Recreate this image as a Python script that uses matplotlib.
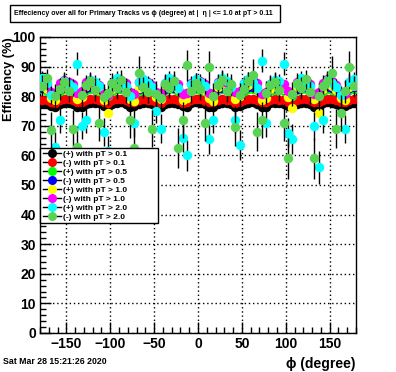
import matplotlib
matplotlib.use('Agg')
import matplotlib.pyplot as plt
from matplotlib.lines import Line2D
from matplotlib.patches import Rectangle
from matplotlib.ticker import MultipleLocator

plt.rcParams['font.family'] = ['Liberation Sans', 'DejaVu Sans']
plt.rcParams['font.weight'] = 'bold'

# phi bin centres (5 degree bins)
phi = [-177.5 + 5 * i for i in range(72)]

labels = ['(+) with pT > 0.1', '(-) with pT > 0.1', '(+) with pT > 0.5', '(-) with pT > 0.5',
          '(+) with pT > 1.0', '(-) with pT > 1.0', '(+) with pT > 2.0', '(-) with pT > 2.0']
colors = ['#000000', '#ff0000', '#00ff00', '#0000ff', '#ffff00', '#ff00ff', '#00ffff', '#59d354']

black = [77.6, 77.4, 76.6, 76.4, 77.5, 77.8, 77.7, 77.5, 76.5, 76.3, 77.4, 77.7,
         77.8, 77.6, 76.7, 76.2, 77.3, 77.6, 77.9, 77.5, 76.4, 76.6, 77.5, 77.8,
         77.6, 77.4, 76.5, 76.3, 77.4, 77.7, 77.8, 77.5, 76.6, 76.4, 77.6, 77.9,
         77.7, 77.3, 76.5, 76.2, 77.5, 77.8, 77.6, 77.4, 76.3, 76.6, 77.5, 77.7,
         77.9, 77.5, 76.4, 76.5, 77.6, 77.8, 77.6, 77.3, 76.6, 76.3, 77.4, 77.7,
         77.8, 77.5, 76.5, 76.4, 77.6, 77.9, 77.7, 77.4, 76.4, 76.6, 77.5, 77.8]
red = [78.8, 78.6, 78.0, 77.8, 78.7, 79.0, 78.9, 78.6, 77.9, 78.1, 78.8, 79.1,
       78.9, 78.7, 78.0, 77.7, 78.6, 78.9, 79.0, 78.8, 77.9, 78.0, 78.7, 79.1,
       78.8, 78.6, 78.1, 77.8, 78.7, 79.0, 78.9, 78.7, 77.8, 78.0, 78.8, 79.0,
       78.9, 78.5, 78.0, 77.9, 78.7, 79.1, 78.8, 78.6, 77.8, 78.1, 78.8, 79.0,
       79.1, 78.7, 77.9, 78.0, 78.6, 78.9, 78.8, 78.6, 78.0, 77.8, 78.7, 79.0,
       78.9, 78.7, 77.9, 78.1, 78.8, 79.1, 78.9, 78.6, 78.0, 77.9, 78.7, 79.0]
green = [82.3, 81.9, 80.6, 80.2, 81.8, 82.4, 82.1, 81.7, 80.4, 80.8, 82.0, 82.5,
         82.2, 81.8, 80.5, 80.1, 81.9, 82.3, 82.4, 82.0, 80.7, 80.3, 81.8, 82.2,
         82.1, 81.6, 80.4, 80.6, 82.0, 82.4, 82.3, 81.9, 80.2, 80.5, 81.9, 82.5,
         82.2, 81.8, 80.6, 80.3, 82.1, 82.3, 82.0, 81.7, 80.5, 80.8, 81.9, 82.4,
         82.5, 82.0, 80.3, 80.6, 81.8, 82.2, 82.1, 81.8, 80.6, 80.2, 82.0, 82.3,
         82.4, 81.9, 80.4, 80.7, 81.8, 82.5, 82.2, 81.7, 80.5, 80.3, 82.0, 82.4]
blue = [82.8, 82.4, 81.0, 80.7, 82.5, 83.0, 82.6, 82.2, 80.9, 81.2, 82.7, 83.1,
        82.5, 82.3, 81.1, 80.6, 82.6, 82.9, 83.0, 82.4, 80.8, 81.0, 82.4, 82.8,
        82.7, 82.1, 81.2, 80.9, 82.6, 83.1, 82.8, 82.3, 80.7, 81.1, 82.5, 83.0,
        82.9, 82.4, 81.0, 80.8, 82.7, 82.9, 82.6, 82.2, 81.1, 81.3, 82.5, 83.0,
        83.1, 82.6, 80.9, 81.1, 82.4, 82.8, 82.7, 82.3, 81.2, 80.8, 82.6, 82.9,
        83.0, 82.5, 80.9, 81.2, 82.4, 83.1, 82.8, 82.2, 81.0, 80.9, 82.7, 83.0]
yellow = [83.5, 82.6, 79.4, 78.8, 82.9, 84.0, 83.2, 82.1, 79.0, 79.8, 83.4, 84.2,
          82.8, 82.0, 78.7, 74.2, 82.5, 83.6, 84.1, 82.7, 79.2, 78.5, 82.9, 83.8,
          83.3, 81.8, 79.6, 78.9, 83.1, 84.3, 83.7, 82.4, 78.6, 79.5, 82.7, 84.0,
          83.6, 82.2, 79.3, 78.4, 83.0, 84.1, 82.9, 82.0, 79.1, 79.9, 82.8, 83.9,
          84.4, 82.6, 78.8, 79.4, 82.5, 83.5, 83.2, 82.3, 79.7, 76.0, 83.1, 83.8,
          84.0, 82.5, 79.0, 74.3, 82.6, 84.2, 83.5, 82.1, 79.3, 78.7, 83.0, 83.7]
magenta = [85.0, 84.2, 81.3, 80.6, 84.6, 85.5, 84.9, 84.0, 81.0, 81.7, 84.8, 85.6,
           84.5, 83.8, 80.9, 80.4, 84.3, 85.2, 85.4, 84.4, 81.4, 80.8, 84.7, 85.3,
           84.9, 83.9, 81.5, 81.0, 84.6, 85.7, 85.1, 84.1, 80.7, 81.2, 84.4, 85.4,
           85.2, 84.0, 81.1, 80.5, 84.8, 85.6, 84.6, 83.7, 81.3, 81.8, 84.5, 85.2,
           85.6, 84.3, 80.8, 81.4, 84.2, 85.1, 84.9, 84.1, 81.6, 80.9, 84.7, 85.3,
           85.4, 84.2, 80.9, 81.5, 84.3, 85.7, 85.0, 83.9, 81.2, 80.6, 84.8, 85.4]
cyan = [86.0, 84.5, 80.5, 63.0, 72.0, 85.2, 84.0, 83.1, 91.0, 70.0,
        72.0, 85.5, 84.7, 83.4, 68.0, 61.5, 84.0, 86.2, 85.1, 83.6,
        80.2, 71.0, 84.8, 85.9, 84.3, 83.0, 75.0, 69.0, 84.5, 86.0,
        85.0, 82.8, 66.0, 60.0, 84.1, 85.7, 84.9, 83.5, 65.5, 72.0,
        84.6, 86.3, 85.3, 83.2, 72.0, 63.5, 84.4, 85.8, 84.7, 82.9,
        92.0, 71.0, 84.2, 85.6, 85.2, 91.0, 67.6, 65.5, 84.0, 86.1,
        84.8, 83.3, 70.0, 56.0, 72.0, 85.4, 84.6, 83.0, 80.4, 69.0,
        84.9, 85.7]
lgreen = [83.5, 86.0, 68.6, 80.0, 82.4, 84.8, 81.9, 69.0, 63.0, 80.5,
          83.8, 85.1, 82.2, 71.0, 79.6, 81.0, 84.5, 82.7, 85.6, 81.5,
          72.0, 62.5, 88.0, 83.0, 81.4, 69.0, 80.8, 79.5, 84.2, 82.9,
          85.3, 62.5, 72.0, 90.5, 81.7, 84.6, 82.4, 71.0, 90.0, 80.2,
          83.9, 85.5, 81.8, 84.1, 69.6, 80.4, 82.6, 85.0, 87.0, 68.0,
          72.0, 81.2, 83.7, 84.9, 82.1, 71.0, 59.0, 80.7, 84.4, 82.8,
          85.8, 81.3, 59.0, 79.9, 83.6, 85.2, 88.0, 69.0, 74.3, 81.6,
          90.0, 83.3]

cyan_err = [2.6, 2.4, 3.0, 5.0, 4.5, 2.3, 2.5, 2.7, 4.0, 4.6,
            4.3, 2.4, 2.6, 2.8, 4.8, 5.2, 2.5, 2.3, 2.4, 2.7,
            3.1, 4.7, 2.5, 2.3, 2.6, 2.8, 4.2, 4.9, 2.5, 2.4,
            2.4, 2.8, 5.0, 5.3, 2.6, 2.3, 2.5, 2.7, 5.1, 4.5,
            2.6, 2.3, 2.4, 2.8, 4.6, 5.0, 2.5, 2.4, 2.6, 2.9,
            3.8, 4.7, 2.5, 2.3, 2.4, 3.9, 4.9, 5.1, 2.6, 2.3,
            2.5, 2.8, 4.8, 5.5, 4.4, 2.4, 2.6, 2.9, 3.1, 4.8,
            2.5, 2.4]
lgreen_err = [3.6, 3.2, 6.0, 4.2, 3.7, 3.3, 3.9, 6.2, 6.8, 4.3,
              3.5, 3.1, 3.8, 6.1, 4.4, 4.1, 3.4, 3.7, 3.2, 3.9,
              6.0, 6.9, 5.5, 3.6, 3.8, 6.3, 4.2, 4.5, 3.4, 3.6,
              3.3, 6.8, 6.0, 5.2, 3.9, 3.3, 3.7, 6.2, 5.4, 4.3,
              3.5, 3.2, 3.9, 3.4, 6.4, 4.2, 3.7, 3.3, 5.6, 6.5,
              6.0, 3.9, 3.5, 3.3, 3.8, 6.2, 7.0, 4.1, 3.4, 3.7,
              3.2, 3.9, 7.0, 4.4, 3.6, 3.3, 5.5, 6.6, 6.0, 3.8,
              5.3, 3.6]

series = [black, red, green, blue, yellow, magenta, cyan, lgreen]
errors = [0.4, 0.45, 0.7, 0.7, 1.2, 1.2, cyan_err, lgreen_err]

W, H = 396, 372
fig = plt.figure(figsize=(W / 100, H / 100), dpi=100)
ax = fig.add_axes([40 / W, 39 / H, 316 / W, 296 / H])

for k, (vals, err, c) in enumerate(zip(series, errors, colors)):
    ax.errorbar(phi, vals, yerr=err, fmt='o', ms=6.8, mfc=c, mec=c, mew=0,
                ecolor='black', elinewidth=1, capsize=0, zorder=3 + k)

ax.set_xlim(-180, 180)
ax.set_ylim(0, 100)
ax.xaxis.set_major_locator(MultipleLocator(50))
ax.xaxis.set_minor_locator(MultipleLocator(10))
ax.yaxis.set_major_locator(MultipleLocator(10))
ax.yaxis.set_minor_locator(MultipleLocator(2))
ax.tick_params(which='both', direction='in', top=False, right=False, width=1)
ax.tick_params(which='major', length=8, labelsize=10, pad=3)
ax.tick_params(which='minor', length=4)
ax.grid(True, which='major', color='black', linestyle=(0, (1, 2)), linewidth=1, zorder=1)
ax.set_axisbelow(True)
for s in ax.spines.values():
    s.set_linewidth(1)

ax.set_ylabel('Efficiency (%)', fontsize=9.2, fontweight='bold', loc='top')
ax.yaxis.set_label_coords(-24.5 / 316, 1.0)
ax.set_xlabel('\u03d5 (degree)', fontsize=10, fontweight='bold', loc='right')
ax.xaxis.set_label_coords(1.0, -24 / 296)

handles = [Line2D([], [], color='black', lw=1, marker='o', ms=6.5, mfc=c, mec=c, mew=0)
           for c in colors]
leg = ax.legend(handles, labels, loc='upper left',
                bbox_to_anchor=(40 / W, 1 - 223 / H, 118 / W, 75 / H), mode='expand',
                bbox_transform=fig.transFigure, borderaxespad=0, fontsize=6,
                frameon=True, fancybox=False, framealpha=1, edgecolor='black',
                handlelength=2.2, handletextpad=0.3, labelspacing=0.13, borderpad=0.3)
leg.get_frame().set_linewidth(1)
leg.set_zorder(20)

# title box
fig.patches.append(Rectangle((10 / W, 1 - 22 / H), 270 / W, 17 / H, transform=fig.transFigure,
                             fc='white', ec='black', lw=1))
fig.text(143 / W, 1 - 13.5 / H,
         'Effeciency over all for Primary Tracks vs \u03d5 (degree) at |  \u03b7 | <= 1.0 at pT > 0.11',
         ha='center', va='center', fontsize=5.0, fontweight='bold')

fig.text(3 / W, 1 - 362 / H, 'Sat Mar 28 15:21:26 2020', ha='left', va='center',
         fontsize=6.3, fontweight='bold')

fig.savefig('out.png', dpi=100)
